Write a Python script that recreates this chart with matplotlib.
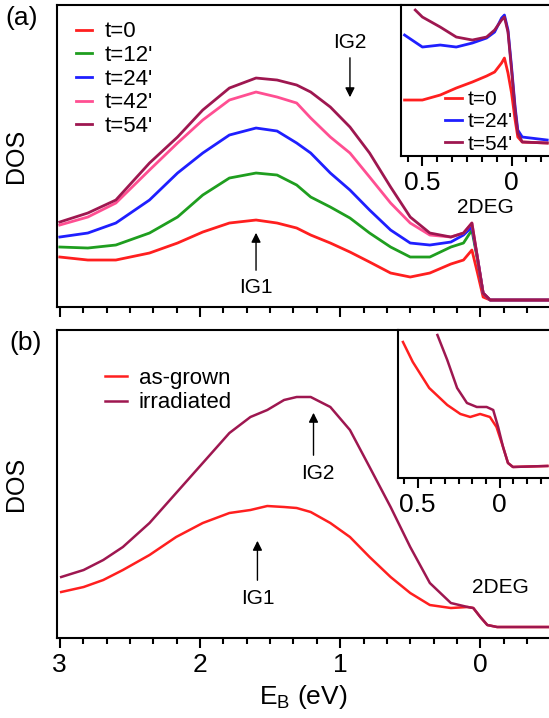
import matplotlib
matplotlib.use("Agg")
import matplotlib.pyplot as plt
from matplotlib.ticker import MultipleLocator, FuncFormatter

plt.rcParams['font.family'] = ['Liberation Sans', 'DejaVu Sans']
plt.rcParams['mathtext.fontset'] = 'custom'
plt.rcParams['mathtext.rm'] = 'Liberation Sans'
plt.rcParams['mathtext.it'] = 'Liberation Sans:italic'

# ---- panel (a): DOS vs time (arb. units) ----
e_a = [3.0, 2.8, 2.6, 2.36, 2.16, 1.98, 1.79, 1.6, 1.45, 1.31, 1.21, 1.07, 0.93,
       0.79, 0.64, 0.5, 0.36, 0.21, 0.12, 0.06, 0.02, -0.02, -0.07, -0.5]
dos_t0 = [50, 47, 47, 54, 64, 75, 84, 87, 84, 79, 72, 64, 55, 45, 34, 30, 34, 43,
          47, 57, 34, 10, 7, 7]
dos_t12 = [60, 59, 62, 74, 90, 112, 129, 134, 132, 122, 110, 100, 89, 74, 60, 50,
           50, 60, 64, 77, 47, 14, 7, 7]
dos_t24 = [70, 74, 84, 107, 134, 154, 172, 179, 176, 164, 154, 134, 117, 97, 77,
           64, 62, 65, 72, 80, 49, 14, 7, 7]
dos_t42 = [82, 90, 104, 137, 164, 187, 207, 215, 210, 204, 189, 170, 154, 130,
           104, 84, 72, 70, 74, 84, 49, 14, 7, 7]
dos_t54 = [85, 94, 107, 144, 170, 197, 219, 229, 227, 222, 215, 200, 180, 154,
           120, 90, 74, 70, 74, 84, 49, 14, 7, 7]
labels_a = ['t=0', "t=12'", "t=24'", "t=42'", "t=54'"]

# inset (a): zoom near the Fermi level
e_ins_a = [0.6, 0.5, 0.4, 0.31, 0.22, 0.14, 0.095, 0.056, 0.04, 0.02, 0.0, -0.02,
           -0.035, -0.06, -0.2]
ins_t0 = [56, 56, 61, 68, 74, 80, 84, 93, 98, 83, 63, 36, 19, 14, 13]
ins_t24 = [121, 109, 111, 109, 113, 118, 124, 138, 141, 126, 89, 49, 26, 19, 16]
e_ins_a54 = [0.54, 0.5, 0.4, 0.31, 0.22, 0.14, 0.095, 0.056, 0.04, 0.02, 0.0,
             -0.02, -0.035, -0.06, -0.2]
ins_t54 = [146, 139, 129, 119, 116, 119, 126, 136, 139, 124, 86, 46, 23, 14, 13]

# ---- panel (b): as-grown vs irradiated ----
e_b = [2.99, 2.83, 2.69, 2.55, 2.36, 2.17, 1.98, 1.79, 1.64, 1.52, 1.4, 1.31, 1.21,
       1.07, 0.93, 0.79, 0.64, 0.5, 0.36, 0.21, 0.09, 0.05, 0.0, -0.05, -0.12, -0.49]
dos_asgrown = [46, 51, 58, 68, 83, 101, 115, 125, 128, 132, 131, 130, 126, 115,
               101, 81, 61, 45, 33, 30, 31, 30, 21, 13, 11, 11]
dos_irrad = [61, 68, 78, 91, 115, 145, 175, 205, 221, 228, 238, 241, 241, 231,
             208, 171, 131, 91, 55, 35, 31, 30, 21, 13, 11, 11]

e_ins_b_ag = [0.59, 0.53, 0.43, 0.32, 0.24, 0.18, 0.12, 0.06, 0.02, -0.02, -0.05,
              -0.08, -0.29]
ins_asgrown = [136, 116, 90, 73, 64, 61, 64, 61, 51, 31, 15, 11, 12]
e_ins_b_ir = [0.38, 0.32, 0.26, 0.2, 0.14, 0.08, 0.04, 0.01, -0.02, -0.05, -0.08,
              -0.29]
ins_irrad = [143, 118, 90, 75, 71, 71, 68, 51, 31, 15, 11, 12]

c_red = '#ff1f1f'
c_green = '#1f9e1f'
c_blue = '#1f1fff'
c_pink = '#ff4f92'
c_maroon = '#9e1750'
colors_a = [c_red, c_green, c_blue, c_pink, c_maroon]

fig = plt.figure(figsize=(5.49, 7.18), dpi=100)

fmt = FuncFormatter(lambda v, p: '%g' % (0 if abs(v) < 1e-9 else v))


def style_axis(ax, major, minor, labels=True, fs=19):
    ax.xaxis.set_major_locator(MultipleLocator(major))
    ax.xaxis.set_minor_locator(MultipleLocator(minor))
    ax.xaxis.set_major_formatter(fmt)
    ax.set_yticks([])
    ax.spines['right'].set_visible(False)
    for s in ax.spines.values():
        s.set_linewidth(1.5)
    ax.tick_params(axis='x', which='major', direction='out', length=7, width=1.5,
                   labelsize=fs, labelbottom=labels, pad=4)
    ax.tick_params(axis='x', which='minor', direction='out', length=4, width=1.5)


# top panel
ax1 = fig.add_axes([0.1038, 0.5724, 0.8962, 0.4206])
series = [dos_t0, dos_t12, dos_t24, dos_t42, dos_t54]
for ys, c, lab in zip(series, colors_a, labels_a):
    ax1.plot(e_a, ys, color=c, lw=2.0, label=lab)
ax1.set_xlim(3.02, -0.49)
ax1.set_ylim(0, 302)
style_axis(ax1, 1, 1 / 6, labels=False)
ax1.set_ylabel('DOS', fontsize=18)
ax1.yaxis.set_label_coords(-0.058, 0.5)
ax1.legend(loc='upper left', bbox_to_anchor=(0.02, 0.975), frameon=False,
           fontsize=16, handlelength=0.75, handletextpad=0.55, labelspacing=0.12,
           borderaxespad=0)
ax1.annotate('', xy=(1.6, 77), xytext=(1.6, 34),
             arrowprops=dict(arrowstyle='-|>', color='k', lw=1, mutation_scale=14))
ax1.text(1.6, 20, 'IG1', ha='center', va='center', fontsize=15)
ax1.annotate('', xy=(0.93, 207), xytext=(0.93, 252),
             arrowprops=dict(arrowstyle='-|>', color='k', lw=1, mutation_scale=14))
ax1.text(0.93, 265, 'IG2', ha='center', va='center', fontsize=15)
ax1.text(-0.036, 100, '2DEG', ha='center', va='center', fontsize=15)

# top inset
ax1i = fig.add_axes([0.7304, 0.7827, 0.2696, 0.2103])
ax1i.plot(e_ins_a, ins_t0, color=c_red, lw=2.0, label='t=0')
ax1i.plot(e_ins_a, ins_t24, color=c_blue, lw=2.0, label="t=24'")
ax1i.plot(e_ins_a54, ins_t54, color=c_maroon, lw=2.0, label="t=54'")
ax1i.set_xlim(0.62, -0.21)
ax1i.set_ylim(0, 151)
style_axis(ax1i, 0.5, 0.5 / 6)
ax1i.legend(loc='upper left', bbox_to_anchor=(0.24, 0.49), frameon=False,
            fontsize=15, handlelength=0.8, handletextpad=0.3, labelspacing=0.15,
            borderaxespad=0)

# bottom panel
ax2 = fig.add_axes([0.1038, 0.1114, 0.8962, 0.4290])
ax2.plot(e_b, dos_asgrown, color=c_red, lw=1.8, label='as-grown')
ax2.plot(e_b, dos_irrad, color=c_maroon, lw=1.8, label='irradiated')
ax2.set_xlim(3.02, -0.49)
ax2.set_ylim(0, 308)
style_axis(ax2, 1, 1 / 6)
ax2.set_ylabel('DOS', fontsize=18)
ax2.yaxis.set_label_coords(-0.058, 0.5)
ax2.set_xlabel(r'$\mathrm{E_B}$ (eV)', fontsize=19, labelpad=4)
ax2.legend(loc='upper left', bbox_to_anchor=(0.08, 0.905), frameon=False,
           fontsize=16, handlelength=1.0, handletextpad=0.5, labelspacing=0.15,
           borderaxespad=0)
ax2.annotate('', xy=(1.59, 100), xytext=(1.59, 55),
             arrowprops=dict(arrowstyle='-|>', color='k', lw=1, mutation_scale=14))
ax2.text(1.59, 40, 'IG1', ha='center', va='center', fontsize=15)
ax2.annotate('', xy=(1.19, 228), xytext=(1.19, 180),
             arrowprops=dict(arrowstyle='-|>', color='k', lw=1, mutation_scale=14))
ax2.text(1.16, 165, 'IG2', ha='center', va='center', fontsize=15)
ax2.text(-0.14, 51, '2DEG', ha='center', va='center', fontsize=15)

# bottom inset
ax2i = fig.add_axes([0.7250, 0.3343, 0.2750, 0.2061])
ax2i.plot(e_ins_b_ag, ins_asgrown, color=c_red, lw=1.8)
ax2i.plot(e_ins_b_ir, ins_irrad, color=c_maroon, lw=1.8)
ax2i.set_xlim(0.62, -0.30)
ax2i.set_ylim(0, 148)
style_axis(ax2i, 0.5, 0.5 / 6)

fig.text(0.04, 0.975, '(a)', ha='center', va='center', fontsize=19)
fig.text(0.047, 0.522, '(b)', ha='center', va='center', fontsize=19)

fig.savefig('out.png', dpi=100)
